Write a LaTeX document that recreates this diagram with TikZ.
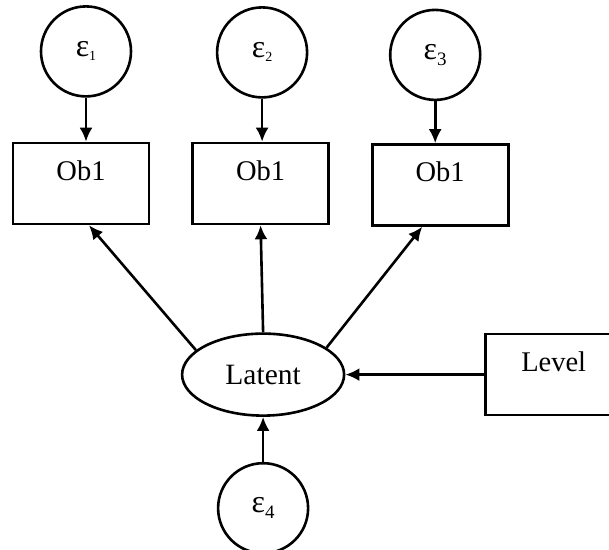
\documentclass[tikz,border=0pt]{standalone}
\usepackage{fontspec}
\setmainfont{Liberation Serif}
\usetikzlibrary{positioning,arrows.meta,shapes.geometric}
\tikzset{
  line/.style={-{Latex[length=14pt,width=13pt]}, line width=2.6pt},
  box/.style={draw, line width=2.6pt, minimum width=136pt, minimum height=81pt, inner sep=0pt,
    text height=18pt, text depth=25pt, font=\fontsize{28.5}{34}\selectfont},
  err/.style={draw, circle, line width=2.6pt, minimum size=90pt, inner sep=0pt,
    font=\fontsize{32}{38}\selectfont},
  latent/.style={draw, ellipse, line width=2.6pt, minimum width=162pt, minimum height=82pt,
    inner sep=0pt, font=\fontsize{29.5}{35}\selectfont}
}

\begin{document}
\begin{tikzpicture}[node distance=41pt, >=Latex]
  \useasboundingbox (0,0) rectangle (609pt,-549pt);
  \node[box] (ob1) at (81pt,-183.5pt) {Ob1};
  \node[box, right=of ob1] (ob2) {Ob1};
  \node[box, right=of ob2, yshift=-1.5pt] (ob3) {Ob1};

  \node[err, above=44pt of ob1, xshift=5pt] (e1) {ε\raisebox{-4pt}{\fontsize{14}{14}\selectfont 1}};
  \node[err, above=43pt of ob2, xshift=1.5pt] (e2) {ε\raisebox{-4pt}{\fontsize{14}{14}\selectfont 2}};
  \node[err, above=42pt of ob3, xshift=-5pt] (e3) {ε\raisebox{-6pt}{\fontsize{19}{19}\selectfont 3}};

  \node[latent, below=107pt of ob2, xshift=2.5pt] (lat) {Latent};
  \node[box, text depth=24pt, right=139pt of lat] (lev) {Level};
  \node[err, below=45pt of lat] (e4) {ε\raisebox{-6pt}{\fontsize{19}{19}\selectfont 4}};

  \draw[line] (e1.south) -- (e1.south |- ob1.north);
  \draw[line] (e2.south) -- (e2.south |- ob2.north);
  \draw[line] (e3.south) -- (e3.south |- ob3.north);
  \draw[line] (lat.160) -- ([xshift=8pt]ob1.south);
  \draw[line] (lat.north) -- (ob2.south);
  \draw[line] (lat.23) -- ([xshift=-18pt]ob3.south);
  \draw[line] (lev.west) -- (lat.east);
  \draw[line] (e4.north) -- (lat.south);
\end{tikzpicture}
\end{document}
